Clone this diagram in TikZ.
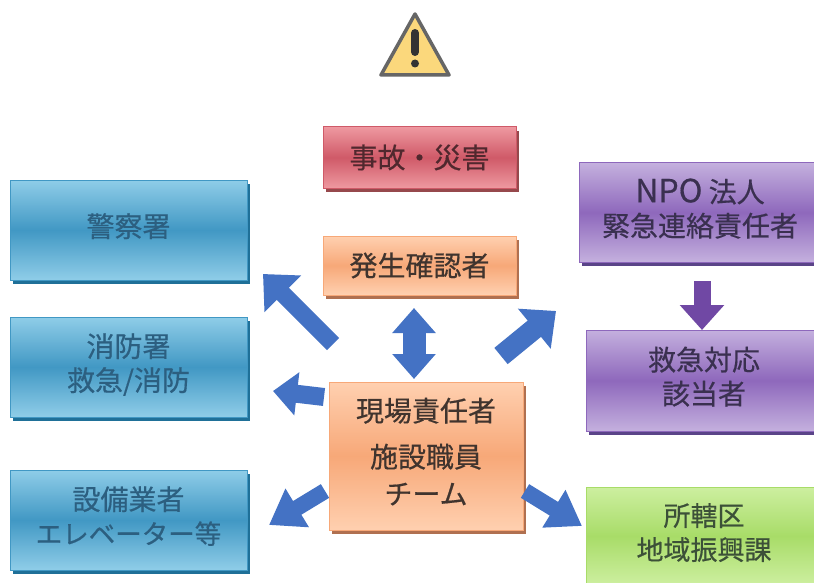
\documentclass[tikz,border=0pt]{standalone}
\usepackage{fontspec}
\setmainfont{Noto Sans CJK JP}[FakeBold=0.5]
\usetikzlibrary{arrows.meta,shadows,calc}
\definecolor{blueL}{HTML}{8FCDE8}\definecolor{blueM}{HTML}{4198C4}\definecolor{blueD}{HTML}{1F7098}\definecolor{blueT}{HTML}{2C5F80}
\definecolor{redL}{HTML}{EE98A0}\definecolor{redM}{HTML}{CF5A68}\definecolor{redD}{HTML}{96484C}\definecolor{redT}{HTML}{50282E}
\definecolor{orL}{HTML}{FFD0B0}\definecolor{orM}{HTML}{F7A878}\definecolor{orD}{HTML}{B07050}\definecolor{orT}{HTML}{40342E}
\definecolor{puL}{HTML}{C4B0DE}\definecolor{puM}{HTML}{8E68BC}\definecolor{puD}{HTML}{5A4488}\definecolor{puT}{HTML}{3A3050}
\definecolor{grL}{HTML}{CDEFA0}\definecolor{grM}{HTML}{A8DC68}\definecolor{grD}{HTML}{78A848}\definecolor{grT}{HTML}{3C5038}
\definecolor{arrowB}{HTML}{4472C4}\definecolor{arrowP}{HTML}{7048A4}
\definecolor{signY}{HTML}{FBD87C}
\newcommand\up[2]{\raisebox{#1}{\begin{tabular}{@{}c@{}}#2\end{tabular}}}
\newcommand\fs[1]{\fontsize{#1}{34}\selectfont}
\tikzset{
  x=1pt,y=-1pt,
  box/.style n args={3}{draw=#2,line width=1pt,inner sep=0pt,align=center,
    top color=#1L,bottom color=#1L,middle color=#1M,text=#1T,
    general shadow={fill=#1D,shadow xshift=3pt,shadow yshift=-4pt},
    font=\fs{28},#3},
  blue box/.style={box={blue}{blueM}{minimum width=237pt,minimum height=100pt}},
  blockarrow/.style n args={4}{line width=#1,color=#4,
    -{Triangle[length=#3,width=#2]}},
}
\begin{document}
\begin{tikzpicture}
\useasboundingbox (0,0) rectangle (814,583);
\clip (0,0) rectangle (814,583);
\fill[white] (0,0) rectangle (814,583);
% warning sign
\coordinate (wa) at (415,14); \coordinate (wl) at (381,75); \coordinate (wr) at (449,75);
\draw[fill=signY,draw=black!60,line width=3.5pt,line join=round] (wa) -- (wr) -- (wl) -- cycle;
\draw[line width=8pt,line cap=round,black!80] (415,33) -- (415,52);
\fill[black!80] (415,63.5) circle (4pt);
% boxes
\node[box={red}{redM}{minimum width=193pt,minimum height=61pt}] (acc) at (419.5,157.5) {事故・災害};
\node[box={or}{orM}{minimum width=193pt,minimum height=59pt}] (wit) at (419.5,265.5) {発生確認者};
\node[blue box] (pol) at (128.5,230) {\up{6pt}{警察署}};
\node[blue box] (fire) at (128.5,367) {\up{7pt}{消防署\\救急/消防}};
\node[blue box] (equip) at (128.5,520) {\up{8pt}{設備業者\\\fs{26.5}エレベーター等}};
\node[box={pu}{puM}{minimum width=242pt,minimum height=99pt}] (npo) at (700,212.5) {\up{7pt}{{\fs{32}NPO} 法人\\緊急連絡責任者}};
\node[box={pu}{puM}{minimum width=236pt,minimum height=101pt}] (er) at (704,380.5) {\up{3pt}{救急対応\\該当者}};
\node[box={gr}{grM}{minimum width=236pt,minimum height=98pt}] (ward) at (704,536) {\up{3pt}{\fs{27}所轄区\\\fs{27}地域振興課}};
\node[box={or}{orM}{minimum width=194pt,minimum height=148pt}] (lead) at (426,456) {\up{6pt}{現場責任者\\[12pt]施設職員\\[3pt]チーム}};
% arrows
\coordinate (a1s) at (333,344); \coordinate (a1e) at (263,274);
\coordinate (a2s) at (324,397); \coordinate (a2e) at (273,391);
\coordinate (a3s) at (325,491); \coordinate (a3e) at (269,525);
\coordinate (a4s) at (525,491); \coordinate (a4e) at (582,526);
\coordinate (a5s) at (501,356); \coordinate (a5e) at (556,311);
\coordinate (a6s) at (414,345); \coordinate (a6t) at (414,308); \coordinate (a6b) at (414,379);
\coordinate (a7s) at (702,281); \coordinate (a7e) at (702,330);
\draw[blockarrow={17pt}{50pt}{28pt}{arrowB}] (a1s) -- (a1e);
\draw[blockarrow={18pt}{42pt}{24pt}{arrowB}] (a2s) -- (a2e);
\draw[blockarrow={16pt}{43pt}{33pt}{arrowB}] (a3s) -- (a3e);
\draw[blockarrow={16pt}{42pt}{33pt}{arrowB}] (a4s) -- (a4e);
\draw[blockarrow={21pt}{50pt}{28pt}{arrowB}] (a5s) -- (a5e);
\draw[blockarrow={23pt}{42pt}{25pt}{arrowB}] (a6s) -- (a6t);
\draw[blockarrow={23pt}{42pt}{25pt}{arrowB}] (a6s) -- (a6b);
\draw[blockarrow={17pt}{43pt}{25pt}{arrowP}] (a7s) -- (a7e);
\end{tikzpicture}
\end{document}
